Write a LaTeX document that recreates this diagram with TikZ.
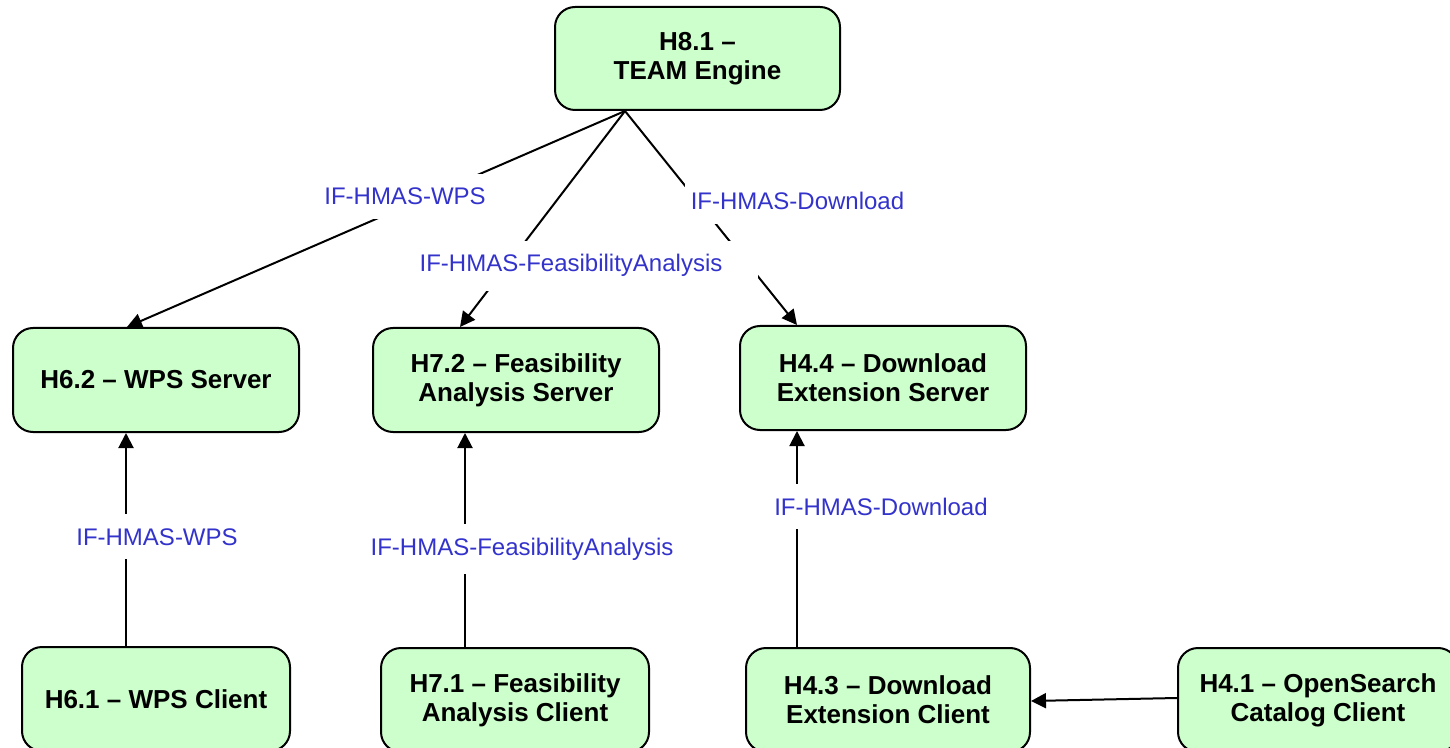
\documentclass[tikz,border=0pt]{standalone}
\usepackage{fontspec}
\setmainfont{Liberation Sans}
\usetikzlibrary{arrows.meta}
\definecolor{boxfill}{HTML}{CCFFCC}
\definecolor{ifblue}{HTML}{3333CC}

\begin{document}
\begin{tikzpicture}[x=0.5pt,y=-0.5pt,
  box/.style={draw=black, line width=1pt, fill=boxfill, rounded corners=10pt,
    minimum width=143pt, minimum height=52pt, align=center, inner sep=2pt,
    font=\fontsize{13}{14.5}\selectfont\bfseries},
  iflabel/.style={fill=white, text=ifblue, font=\fontsize{12}{14}\selectfont,
    inner xsep=3pt, inner ysep=7pt, anchor=base},
  link/.style={draw=black, line width=1pt, -{Triangle[length=7.5pt,width=7.5pt]}},
]
\useasboundingbox (0,0) rectangle (1450,748);

% components
\node[box, minimum width=142.5pt, minimum height=51.5pt] (h81) at (697.5,58.5) {H8.1 –\\TEAM Engine};
\node[box] (h62) at (156,380) {H6.2 – WPS Server};
\node[box] (h72) at (516,380) {H7.2 – Feasibility\\Analysis Server};
\node[box] (h44) at (883,378) {H4.4 – Download\\Extension Server};
\node[box, minimum width=134pt] (h61) at (156,699) {H6.1 – WPS Client};
\node[box, minimum width=134pt] (h71) at (515,700) {H7.1 – Feasibility\\Analysis Client};
\node[box, minimum width=142pt] (h43) at (888,700) {H4.3 – Download\\Extension Client};
\node[box, minimum width=140pt] (h41) at (1318,700) {H4.1 – OpenSearch\\Catalog Client};

% interfaces from the test engine to the servers
\draw[link] ([xshift=-36.25pt]h81.south) -- ([xshift=-14.5pt]h62.north);
\draw[link] ([xshift=-36.25pt]h81.south) -- ([xshift=-28pt]h72.north);
\draw[link] ([xshift=-36.25pt]h81.south) -- ([xshift=-43pt]h44.north);

% interfaces from the clients to the servers
\draw[link] ([xshift=-15pt]h61.north) -- ([xshift=-15pt]h62.south);
\draw[link] ([xshift=-25pt]h71.north) -- ([xshift=-25.5pt]h72.south);
\draw[link] ([xshift=-45.5pt]h43.north) -- ([xshift=-43pt]h44.south);
\draw[link] ([yshift=1pt]h41.west) -- ([yshift=-0.5pt]h43.east);

% interface labels
\node[iflabel] (lw1) at (405,205) {IF-HMAS-WPS};
\node[iflabel, inner xsep=18pt] (lf1) at (571,272) {IF-HMAS-FeasibilityAnalysis};
\node[iflabel] (ld1) at (797.5,210) {IF-HMAS-Download};
\node[iflabel] (lw2) at (157,545) {IF-HMAS-WPS};
\node[iflabel] (lf2) at (522,555) {IF-HMAS-FeasibilityAnalysis};
\node[iflabel] (ld2) at (881,515) {IF-HMAS-Download};
\end{tikzpicture}
\end{document}
